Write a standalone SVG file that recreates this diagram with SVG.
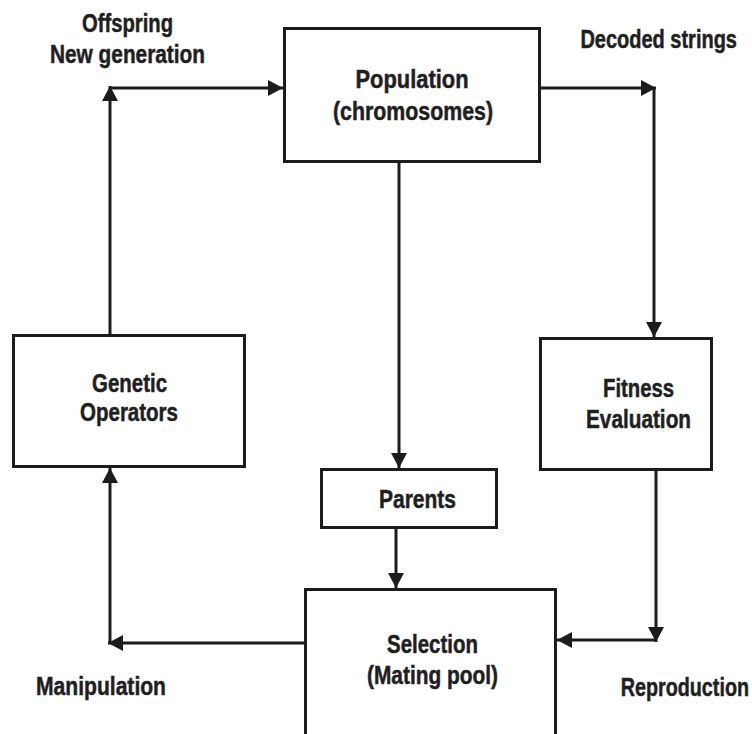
<svg xmlns="http://www.w3.org/2000/svg" width="752" height="734" viewBox="0 0 752 734">
  <defs>
    <marker id="arrow" markerUnits="userSpaceOnUse" markerWidth="18" markerHeight="18" viewBox="-16 -9 18 18" refX="0" refY="0" orient="auto">
      <path d="M-15,-8 L0,0 L-15,8 z" fill="#1c1c1c"/>
    </marker>
    <style>
      .box { fill: #ffffff; stroke: #1c1c1c; stroke-width: 3; }
      .link { fill: none; stroke: #1c1c1c; stroke-width: 3; marker-end: url(#arrow); }
      text { font-family: "Liberation Sans", Arial, sans-serif; font-weight: bold; font-size: 25px; fill: #1f1f1f; stroke: #1f1f1f; stroke-width: 0.5; }
      .mid { text-anchor: middle; }
      .end { text-anchor: end; }
    </style>
  </defs>
  <rect width="752" height="734" fill="#ffffff"/>

  <!-- connectors -->
  <g id="connectors">
    <line class="link" x1="110" y1="334" x2="110" y2="86"/>
    <line class="link" x1="109" y1="88" x2="283" y2="88"/>
    <line class="link" x1="541" y1="88" x2="656" y2="88"/>
    <line class="link" x1="654" y1="88" x2="654" y2="337"/>
    <line class="link" x1="399" y1="163" x2="399" y2="468"/>
    <line class="link" x1="396" y1="529" x2="396" y2="588"/>
    <line class="link" x1="656" y1="471" x2="656" y2="642"/>
    <line class="link" x1="657" y1="640" x2="557" y2="640"/>
    <line class="link" x1="304" y1="643" x2="108" y2="643"/>
    <line class="link" x1="110" y1="644" x2="110" y2="468"/>
  </g>

  <!-- nodes -->
  <g id="population">
    <rect class="box" x="284.5" y="28.5" width="255" height="133"/>
    <text class="mid" x="412" y="88" font-size="28" textLength="113" lengthAdjust="spacingAndGlyphs">Population</text>
    <text class="mid" x="413" y="120" font-size="28" textLength="160" lengthAdjust="spacingAndGlyphs">(chromosomes)</text>
  </g>

  <g id="genetic-operators">
    <rect class="box" x="13.5" y="335.5" width="231" height="131"/>
    <text class="mid" x="129.5" y="392" textLength="75" lengthAdjust="spacingAndGlyphs">Genetic</text>
    <text class="mid" x="129" y="421" textLength="98" lengthAdjust="spacingAndGlyphs">Operators</text>
  </g>

  <g id="fitness-evaluation">
    <rect class="box" x="540.5" y="338.5" width="171" height="131"/>
    <text class="mid" x="638.5" y="397" textLength="71" lengthAdjust="spacingAndGlyphs">Fitness</text>
    <text class="mid" x="638.5" y="428" textLength="105" lengthAdjust="spacingAndGlyphs">Evaluation</text>
  </g>

  <g id="parents">
    <rect class="box" x="321.5" y="469.5" width="175" height="58"/>
    <text class="mid" x="417.5" y="508" textLength="77" lengthAdjust="spacingAndGlyphs">Parents</text>
  </g>

  <g id="selection">
    <rect class="box" x="305.5" y="589.5" width="250" height="170"/>
    <text class="mid" x="432.5" y="653" textLength="91" lengthAdjust="spacingAndGlyphs">Selection</text>
    <text class="mid" x="432.5" y="684" textLength="131" lengthAdjust="spacingAndGlyphs">(Mating pool)</text>
  </g>

  <!-- edge labels -->
  <g id="labels">
    <text class="mid" x="127.5" y="32" textLength="91" lengthAdjust="spacingAndGlyphs">Offspring</text>
    <text class="mid" x="127.5" y="63" textLength="155" lengthAdjust="spacingAndGlyphs">New generation</text>
    <text class="end" transform="translate(737 48) scale(0.8 1)">Decoded strings</text>
    <text class="mid" x="101" y="695" textLength="130" lengthAdjust="spacingAndGlyphs">Manipulation</text>
    <text class="end" transform="translate(749 696) scale(0.79 1)">Reproduction</text>
  </g>
</svg>
